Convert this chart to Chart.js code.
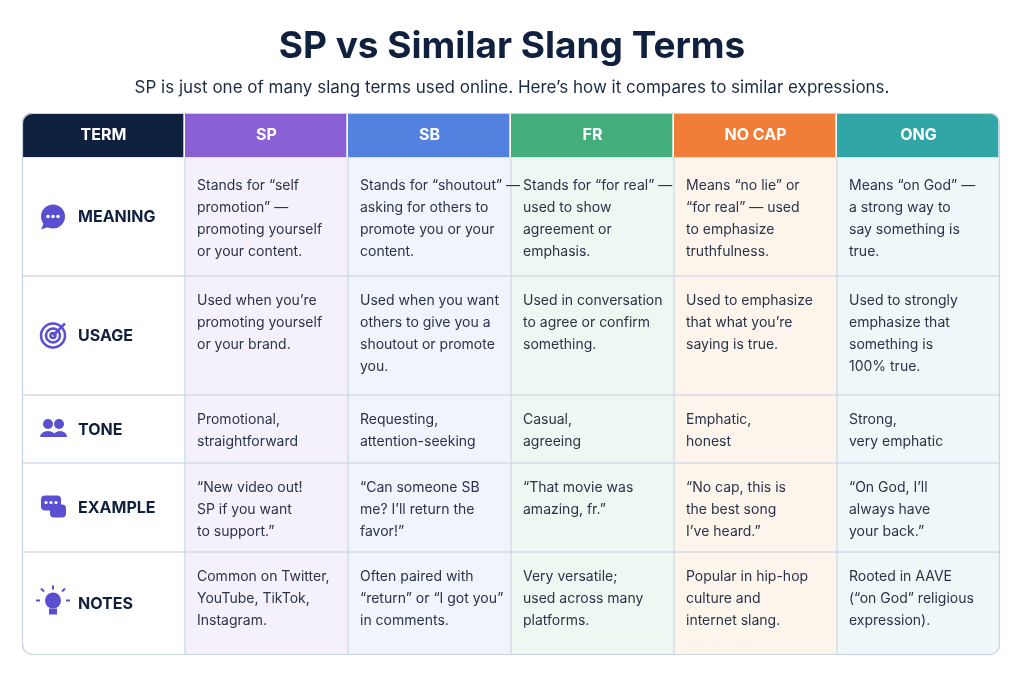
<!DOCTYPE html>
<html><head><meta charset="utf-8">
<script src="https://cdn.jsdelivr.net/npm/chart.js@4.4.1/dist/chart.umd.min.js"></script>
<style>html,body{margin:0;background:#fff}#wrap{width:1024px;height:683px}</style>
</head><body><div id="wrap"><canvas id="c"></canvas></div>
<script>
var columns = ['TERM', 'SP', 'SB', 'FR', 'NO CAP', 'ONG'];
var headColors = ['#10203f', '#8a5fd4', '#5381e0', '#44ad7c', '#f07d38', '#31a6a6'];
var bodyColors = ['#ffffff', '#f5f1fc', '#eff4fd', '#eef8f2', '#fdf4ec', '#eef8f8'];
var rowNames = ['MEANING', 'USAGE', 'TONE', 'EXAMPLE', 'NOTES'];
var meaning = [
  ['Stands for “self', 'promotion” —', 'promoting yourself', 'or your content.'],
  ['Stands for “shoutout” —', 'asking for others to', 'promote you or your', 'content.'],
  ['Stands for “for real” —', 'used to show', 'agreement or', 'emphasis.'],
  ['Means “no lie” or', '“for real” — used', 'to emphasize', 'truthfulness.'],
  ['Means “on God” —', 'a strong way to', 'say something is', 'true.']
];
var usage = [
  ['Used when you’re', 'promoting yourself', 'or your brand.'],
  ['Used when you want', 'others to give you a', 'shoutout or promote', 'you.'],
  ['Used in conversation', 'to agree or confirm', 'something.'],
  ['Used to emphasize', 'that what you’re', 'saying is true.'],
  ['Used to strongly', 'emphasize that', 'something is', '100% true.']
];
var tone = [
  ['Promotional,', 'straightforward'],
  ['Requesting,', 'attention-seeking'],
  ['Casual,', 'agreeing'],
  ['Emphatic,', 'honest'],
  ['Strong,', 'very emphatic']
];
var example = [
  ['“New video out!', 'SP if you want', 'to support.”'],
  ['“Can someone SB', 'me? I’ll return the', 'favor!”'],
  ['“That movie was', 'amazing, fr.”'],
  ['“No cap, this is', 'the best song', 'I’ve heard.”'],
  ['“On God, I’ll', 'always have', 'your back.”']
];
var notes = [
  ['Common on Twitter,', 'YouTube, TikTok,', 'Instagram.'],
  ['Often paired with', '“return” or “I got you”', 'in comments.'],
  ['Very versatile;', 'used across many', 'platforms.'],
  ['Popular in hip-hop', 'culture and', 'internet slang.'],
  ['Rooted in AAVE', '(“on God” religious', 'expression).']
];
var rows = [meaning, usage, tone, example, notes];

// row extents in table units
var edges = [0, 44];
var rowSpan = { 2: 68, 3: 96, 4: 119 };
rows.forEach(function (r, i) {
  var n = Math.max.apply(null, r.map(function (c) { return c.length; }));
  edges.push(edges[edges.length - 1] + (i === 3 ? 89 : i === 4 ? 103 : rowSpan[n]));
});
var total = edges[edges.length - 1];

var datasets = [];
for (var i = 0; i < edges.length - 1; i++) {
  datasets.push({
    data: columns.map(function () { return [edges[i], edges[i + 1]]; }),
    backgroundColor: i === 0 ? headColors : bodyColors,
    borderColor: i === 0 ? '#ffffff' : '#d3dbe6',
    borderWidth: i === 0 ? { right: 2 } : 1,
    borderSkipped: false,
    grouped: false,
    categoryPercentage: 1, barPercentage: 1
  });
}

function icon(ctx, k, x, y) {
  ctx.save();
  ctx.fillStyle = '#5a4fd0'; ctx.strokeStyle = '#5a4fd0'; ctx.lineWidth = 2.5;
  if (k === 0) {
    ctx.beginPath(); ctx.arc(x, y, 12, 0, Math.PI * 2); ctx.fill();
    ctx.beginPath(); ctx.moveTo(x - 9, y + 6); ctx.lineTo(x - 12, y + 13); ctx.lineTo(x - 3, y + 10); ctx.fill();
    ctx.fillStyle = '#fff';
    [-5, 0, 5].forEach(function (d) { ctx.beginPath(); ctx.arc(x + d, y, 1.8, 0, 7); ctx.fill(); });
  } else if (k === 1) {
    [12, 7, 2.5].forEach(function (r) { ctx.beginPath(); ctx.arc(x, y, r, 0, 7); ctx.stroke(); });
    ctx.beginPath(); ctx.moveTo(x, y); ctx.lineTo(x + 12, y - 12); ctx.stroke();
  } else if (k === 2) {
    ctx.beginPath(); ctx.arc(x - 5, y - 5, 5, 0, 7); ctx.fill();
    ctx.beginPath(); ctx.arc(x + 6, y - 5, 5, 0, 7); ctx.fill();
    ctx.beginPath(); ctx.ellipse(x - 5, y + 8, 8, 6, 0, Math.PI, 0); ctx.fill();
    ctx.beginPath(); ctx.ellipse(x + 7, y + 8, 7, 6, 0, Math.PI, 0); ctx.fill();
  } else if (k === 3) {
    ctx.beginPath(); ctx.roundRect(x - 12, y - 12, 20, 15, 4); ctx.fill();
    ctx.beginPath(); ctx.roundRect(x - 3, y - 3, 16, 13, 4); ctx.fill();
    ctx.fillStyle = '#fff';
    [-7, -2, 3].forEach(function (d) { ctx.beginPath(); ctx.arc(x + d, y - 5, 1.6, 0, 7); ctx.fill(); });
  } else {
    ctx.beginPath(); ctx.arc(x, y - 3, 8, 0, 7); ctx.fill();
    ctx.fillRect(x - 4, y + 5, 8, 6);
    ctx.lineWidth = 2;
    [[-13, -3, -17, -3], [13, -3, 17, -3], [-9, -12, -12, -15], [9, -12, 12, -15], [0, -14, 0, -18]].forEach(function (l) {
      ctx.beginPath(); ctx.moveTo(x + l[0], y + l[1]); ctx.lineTo(x + l[2], y + l[3]); ctx.stroke();
    });
  }
  ctx.restore();
}

var tablePlugin = {
  id: 'table',
  beforeDatasetsDraw: function (chart) {
    var a = chart.chartArea, ctx = chart.ctx;
    ctx.save(); ctx.beginPath(); ctx.roundRect(a.left, a.top, a.right - a.left, a.bottom - a.top, 10); ctx.clip();
  },
  afterDatasetsDraw: function (chart) {
    var a = chart.chartArea, ctx = chart.ctx;
    ctx.restore();
    ctx.save();
    ctx.strokeStyle = '#c9d2de'; ctx.lineWidth = 1.2;
    ctx.beginPath(); ctx.roundRect(a.left + 0.5, a.top + 0.5, a.right - a.left - 1, a.bottom - a.top - 1, 10); ctx.stroke();
    // titles
    ctx.textAlign = 'center'; ctx.textBaseline = 'middle'; ctx.fillStyle = '#10203f';
    ctx.font = 'bold 37px Inter, "Noto Sans", sans-serif';
    ctx.fillText('SP vs Similar Slang Terms', 512, 47);
    ctx.font = '17px Inter, "Noto Sans", sans-serif'; ctx.fillStyle = '#1d2a44';
    ctx.fillText('SP is just one of many slang terms used online. Here’s how it compares to similar expressions.', 512, 88);
    // header
    var head = chart.getDatasetMeta(0).data;
    ctx.font = 'bold 16px Inter, "Noto Sans", sans-serif'; ctx.fillStyle = '#fff';
    head.forEach(function (b, j) { ctx.fillText(columns[j], b.x, (b.y + b.base) / 2); });
    // body
    for (var i = 1; i < chart.data.datasets.length; i++) {
      var bars = chart.getDatasetMeta(i).data;
      bars.forEach(function (b, j) {
        var top = Math.min(b.y, b.base), cy = (b.y + b.base) / 2, left = b.x - b.width / 2;
        if (j === 0) {
          icon(ctx, i - 1, left + 31, cy);
          ctx.textAlign = 'left'; ctx.fillStyle = '#10203f';
          ctx.font = 'bold 16px Inter, "Noto Sans", sans-serif';
          ctx.fillText(rowNames[i - 1], left + 56, cy + 1);
          return;
        }
        var lines = rows[i - 1][j - 1];
        ctx.textAlign = 'left'; ctx.fillStyle = '#2a3347';
        ctx.font = '14px Inter, "Noto Sans", sans-serif';
        var y0 = top + (i === 1 ? 29 : 25);
        lines.forEach(function (t, k) { ctx.fillText(t, left + 12, y0 + k * 22); });
      });
    }
    ctx.restore();
  }
};

new Chart(document.getElementById('c'), {
  type: 'bar',
  data: { labels: columns, datasets: datasets },
  options: {
    responsive: true, maintainAspectRatio: false, animation: false,
    layout: { padding: { left: 22, right: 24, top: 113, bottom: 28 } },
    plugins: { legend: { display: false }, tooltip: { enabled: false } },
    scales: {
      x: { display: false },
      y: { display: false, reverse: true, min: 0, max: total }
    }
  },
  plugins: [tablePlugin]
});
</script></body></html>
